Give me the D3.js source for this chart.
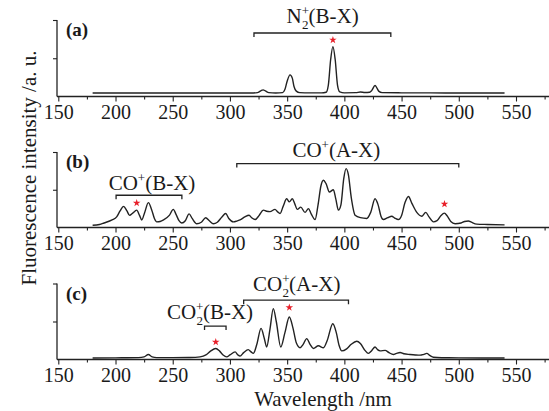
<!DOCTYPE html>
<html><head><meta charset="utf-8">
<script src="https://cdn.jsdelivr.net/npm/d3@7"></script>
<style>
body{margin:0;background:#fff}
svg text{font-family:"Liberation Serif","Times New Roman",serif;fill:#1a1a1a}
</style>
</head><body>
<svg id="chart" width="549" height="411"></svg>
<script>
// ---------- data ----------
const xTicks = [150, 200, 250, 300, 350, 400, 450, 500, 550];
const xMinorTicks = [175, 225, 275, 325, 375, 425, 475, 525, 575];
const panelLabels = ["(a)", "(b)", "(c)"];
const xTitle = "Wavelength /nm";
const yTitle = "Fluorescence intensity /a. u.";

// panel (a) N2+ spectrum [wavelength nm, relative intensity]
const spectrumA = [
  [180,0.045],[200,0.046],[225,0.045],[250,0.046],[275,0.045],[300,0.046],[318,0.046],
  [324,0.05],[327,0.075],[329,0.087],[331,0.072],[334,0.05],[340,0.046],[346,0.05],
  [348,0.09],[350,0.2],[352.5,0.283],[354.5,0.24],[356,0.13],[358,0.07],[361,0.05],
  [370,0.047],[380,0.047],[384,0.055],[386,0.15],[388,0.48],[390,0.652],[392,0.48],
  [394,0.15],[396,0.06],[400,0.048],[410,0.05],[414,0.058],[418,0.052],[422,0.055],
  [424,0.08],[426.8,0.143],[428.5,0.11],[430,0.07],[433,0.05],[450,0.048],[475,0.047],
  [500,0.046],[520,0.046],[540,0.045]
];
// panel (b) CO+ spectrum
const spectrumB = [
  [180,0.03],[186,0.04],[190,0.06],[197,0.1],[201,0.14],[204,0.22],[207,0.28],[210,0.22],
  [212.3,0.16],[215,0.19],[218.5,0.23],[221,0.16],[222.9,0.1],[225.5,0.2],[228.7,0.33],
  [231.5,0.24],[234,0.12],[236,0.075],[239,0.08],[242,0.1],[247,0.16],[250.5,0.24],
  [253,0.17],[255.5,0.09],[257.9,0.06],[261,0.09],[264.3,0.18],[267,0.12],[271,0.05],
  [275,0.07],[278.8,0.13],[282,0.09],[285.5,0.05],[289,0.07],[293,0.14],[296.3,0.185],
  [299,0.12],[303,0.075],[306,0.085],[308.8,0.1],[313,0.14],[316.7,0.163],[319,0.13],
  [322,0.105],[325.5,0.16],[329.2,0.23],[332,0.215],[335,0.21],[339.4,0.24],[341.5,0.21],
  [343.8,0.185],[346.5,0.28],[349.6,0.38],[351.9,0.34],[354.5,0.38],[356.5,0.32],
  [358.9,0.24],[361.9,0.27],[365.6,0.2],[368.6,0.25],[371,0.18],[374.4,0.105],[377,0.3],
  [379.5,0.55],[381.7,0.625],[384,0.58],[386.9,0.47],[390.4,0.5],[392.5,0.38],[394.8,0.23],
  [397,0.3],[399.5,0.65],[401.5,0.78],[403.5,0.7],[406,0.4],[409.4,0.163],[414,0.13],
  [419.6,0.12],[423,0.2],[426.8,0.38],[429.5,0.3],[432,0.15],[434.1,0.105],[438,0.13],
  [441.4,0.15],[444,0.125],[447.2,0.105],[450,0.16],[453,0.33],[456,0.41],[459,0.32],
  [463.3,0.2],[467.6,0.15],[471.1,0.2],[474,0.14],[477.8,0.075],[481,0.09],[484.5,0.16],
  [487.4,0.19],[490,0.15],[493,0.08],[496.8,0.05],[502,0.06],[505,0.08],[508.4,0.087],
  [511,0.07],[515.7,0.045],[525,0.04],[540,0.035]
];
// panel (c) CO2+ spectrum
const spectrumC = [
  [180,0.02],[200,0.022],[220,0.025],[225,0.035],[228.7,0.066],[232,0.035],[236,0.025],
  [250,0.025],[265,0.027],[273.9,0.035],[279,0.06],[283,0.11],[287.6,0.145],[291,0.11],
  [294,0.06],[297.2,0.035],[300,0.06],[304.5,0.1],[307,0.06],[308.8,0.045],[312,0.09],
  [316,0.13],[318.5,0.1],[320.4,0.08],[323.5,0.2],[327.2,0.41],[330,0.28],[332.1,0.165],
  [335,0.4],[337.9,0.67],[340.5,0.5],[344.4,0.165],[348,0.35],[351.9,0.56],[355,0.42],
  [358,0.22],[361.3,0.155],[364,0.2],[367.1,0.275],[370,0.2],[372.9,0.145],[377.3,0.18],
  [381.7,0.155],[385,0.25],[389.9,0.47],[393,0.35],[395.5,0.18],[397.7,0.113],[402,0.14],
  [406,0.2],[410.8,0.24],[414,0.21],[418,0.12],[421,0.08],[424,0.12],[426.8,0.165],
  [429,0.13],[431.2,0.113],[435.6,0.12],[439,0.09],[442.8,0.066],[445.5,0.08],[448.7,0.092],
  [452,0.075],[457.4,0.066],[462,0.06],[466.2,0.057],[469,0.065],[472,0.08],[475,0.05],
  [477.8,0.03],[485,0.024],[500,0.022],[520,0.02],[540,0.02]
];
const spectra = [spectrumA, spectrumB, spectrumC];

// red star marks [wavelength, level]
const starsA = [[390, 0.74]];
const starsB = [[218.5, 0.325], [487.5, 0.31]];
const starsC = [[287.6, 0.23], [351.9, 0.684]];
const stars = [starsA, starsB, starsC];

// band brackets: from, to, level, label pieces, label anchor wavelength & level
const bracketsA = [
  {from: 321, to: 440.6, level: 0.83, base: "N", sub: "2", sup: "+", rest: "(B-X)", lx: 381, ly: 0.955}
];
const bracketsB = [
  {from: 306, to: 500, level: 0.847, base: "CO", sub: "", sup: "+", rest: "(A-X)", lx: 393, ly: 0.93},
  {from: 200.5, to: 258, level: 0.427, base: "CO", sub: "", sup: "+", rest: "(B-X)", lx: 231.9, ly: 0.5}
];
const bracketsC = [
  {from: 312, to: 403.6, level: 0.78, base: "CO", sub: "2", sup: "+", rest: "(A-X)", lx: 358.4, ly: 0.9},
  {from: 277.8, to: 296.6, level: 0.44, base: "CO", sub: "2", sup: "+", rest: "(B-X)", lx: 282.6, ly: 0.53}
];
const brackets = [bracketsA, bracketsB, bracketsC];

// ---------- layout ----------
const axisLeft = 57, axisRight = 549;
const panels = [
  {top: 20, bottom: 96.5},
  {top: 152, bottom: 227.5},
  {top: 283.5, bottom: 359.5}
];
const ink = "#222";

const svg = d3.select("#chart");
const x = d3.scaleLinear().domain([150, 550]).range([58.3, 516]);

panels.forEach((p, i) => {
  const y = d3.scaleLinear().domain([0, 1]).range([p.bottom, p.top]);
  const g = svg.append("g");

  // x axis (major + minor)
  const ax = g.append("g").attr("transform", `translate(0,${p.bottom})`)
    .call(d3.axisBottom(x).tickValues(xTicks).tickSize(5).tickPadding(3).tickFormat(d3.format("d")));
  ax.select(".domain").remove();
  ax.selectAll("line").attr("stroke", ink).attr("stroke-width", 1.1);
  ax.selectAll("text").style("font-size", "20px").attr("fill", "#1a1a1a");

  const axm = g.append("g").attr("transform", `translate(0,${p.bottom})`)
    .call(d3.axisBottom(x).tickValues(xMinorTicks).tickSize(3).tickFormat(""));
  axm.select(".domain").remove();
  axm.selectAll("line").attr("stroke", ink).attr("stroke-width", 1.1);

  g.append("line").attr("x1", axisLeft).attr("x2", axisRight)
    .attr("y1", p.bottom).attr("y2", p.bottom).attr("stroke", ink).attr("stroke-width", 1.3);

  // y axis
  const ay = g.append("g").attr("transform", `translate(${axisLeft},0)`)
    .call(d3.axisLeft(y).tickValues([0.5, 1]).tickSize(4).tickFormat(""));
  ay.select(".domain").remove();
  ay.selectAll("line").attr("stroke", ink).attr("stroke-width", 1.1);
  g.append("line").attr("x1", axisLeft).attr("x2", axisLeft)
    .attr("y1", y(1)).attr("y2", p.bottom).attr("stroke", ink).attr("stroke-width", 1.3);

  // panel label
  g.append("text").attr("x", 66).attr("y", p.top + 16)
    .style("font-size", "19px").style("font-weight", "bold").text(panelLabels[i]);

  // spectrum
  const line = d3.line().x(d => x(d[0])).y(d => y(d[1])).curve(d3.curveMonotoneX);
  g.append("path").datum(spectra[i]).attr("d", line)
    .attr("fill", "none").attr("stroke", ink).attr("stroke-width", 1.4).attr("stroke-linejoin", "round");

  // brackets
  brackets[i].forEach(b => {
    const yl = y(b.level);
    g.append("path")
      .attr("d", `M${x(b.from)},${yl + 4}V${yl}H${x(b.to)}V${yl + 4}`)
      .attr("fill", "none").attr("stroke", ink).attr("stroke-width", 1.3);
    const t = g.append("text").attr("x", x(b.lx)).attr("y", y(b.ly))
      .attr("text-anchor", "middle").style("font-size", "21px");
    t.append("tspan").text(b.base);
    t.append("tspan").attr("dy", -8).style("font-size", "13px").text(b.sup);
    if (b.sub) {
      t.append("tspan").attr("dx", -7).attr("dy", 14).style("font-size", "13px").text(b.sub);
      t.append("tspan").attr("dy", -6).text(b.rest);
    } else {
      t.append("tspan").attr("dy", 8).text(b.rest);
    }
  });

  // stars
  g.selectAll(".star").data(stars[i]).enter().append("path")
    .attr("transform", d => `translate(${x(d[0])},${y(d[1])})`)
    .attr("d", d3.symbol().type(d3.symbolStar).size(18))
    .attr("fill", "#e8202a");
});

// axis titles
svg.append("text").attr("x", 323).attr("y", 406)
  .attr("text-anchor", "middle").style("font-size", "21px").text(xTitle);
svg.append("text")
  .attr("transform", "translate(36,168) rotate(-90)")
  .attr("text-anchor", "middle").style("font-size", "21px").text(yTitle);
</script>
</body></html>
